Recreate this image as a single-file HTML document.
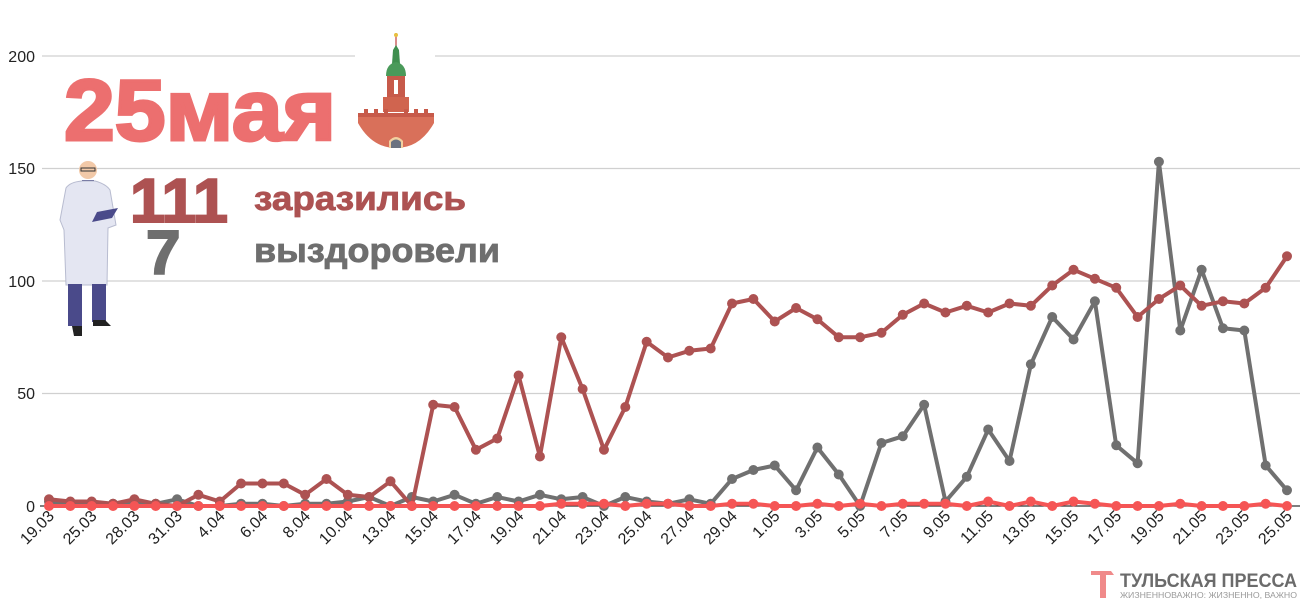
<!DOCTYPE html>
<html><head><meta charset="utf-8"><style>
html,body{margin:0;padding:0;background:#fff;width:1300px;height:600px;overflow:hidden}
svg{display:block;font-family:"Liberation Sans",sans-serif}
</style></head><body>
<svg id="s" width="1300" height="600" viewBox="0 0 1300 600" xmlns="http://www.w3.org/2000/svg">
<g stroke="#d0d0d0" stroke-width="1.3">
<line x1="42" x2="1300" y1="56" y2="56"/><line x1="42" x2="1300" y1="168.5" y2="168.5"/>
<line x1="42" x2="1300" y1="281" y2="281"/><line x1="42" x2="1300" y1="393.5" y2="393.5"/>
</g>
<line x1="40" x2="1300" y1="506" y2="506" stroke="#333" stroke-width="1.2"/>
<g font-size="16" fill="#222" text-anchor="end">
<text x="35" y="62">200</text><text x="35" y="174">150</text><text x="35" y="287">100</text><text x="35" y="399">50</text><text x="35" y="512">0</text>
</g>
<g id="lines"></g>
<g id="xl" font-size="16" fill="#222" text-anchor="end"></g>

<rect x="355" y="40" width="80" height="20" fill="#fff"/>
<text x="64" y="140" font-size="86" font-weight="bold" fill="#ec6f6f" stroke="#ec6f6f" stroke-width="3" textLength="272" lengthAdjust="spacingAndGlyphs">25мая</text>
<g>
<line x1="396" y1="33" x2="396" y2="50" stroke="#c66" stroke-width="1.5"/>
<circle cx="396" cy="35" r="2" fill="#e8c040"/>
<path d="M393 50 L396 45 L399 50 L400 64 L392 64 Z" fill="#3f8f4f"/>
<path d="M386 76 Q386 64 396 62 Q406 64 406 76 Z" fill="#4a9a5a"/>
<rect x="387" y="76" width="18" height="22" fill="#c75a4a"/>
<rect x="394" y="80" width="4" height="14" fill="#fff"/>
<rect x="383" y="97" width="26" height="15" fill="#d0644f"/>
<path d="M358 113 L434 113 L434 123 Q420 148 396 148 Q372 148 358 123 Z" fill="#d9705a"/>
<path d="M358 113 h6v-4h4v4h6v-4h4v4h6v-4h4v4h16v-4h4v4h6v-4h4v4h6v-4h4v4h6v4h-76z" fill="#c75a4a"/>
<path d="M389 148 L389 141 Q396 133 403 141 L403 148 Z" fill="#f2d0a0"/>
<path d="M391 148 L391 142 Q396 137 401 142 L401 148 Z" fill="#6b7280"/>
</g>
<g>
<circle cx="88" cy="170" r="9" fill="#f2c9a8"/>
<rect x="81" y="168" width="14" height="3" fill="none" stroke="#333" stroke-width="1"/>
<path d="M82 180 h12 v8 h-12z" fill="#3b3e7a"/>
<path d="M66 188 Q70 182 82 181 L95 181 Q106 184 110 190 L116 225 L108 228 L107 285 L66 285 L64 230 L60 220 Z" fill="#e4e6f2" stroke="#b8bcd0" stroke-width="1"/>
<path d="M97 212 L118 208 L112 218 L92 222 Z" fill="#4a4a8a"/>
<rect x="68" y="284" width="14" height="42" fill="#4a4a8a"/>
<rect x="92" y="284" width="14" height="38" fill="#4a4a8a"/>
<path d="M72 326 h10 v10 h-8 z" fill="#222"/><path d="M93 320 h12 l6 6 h-18z" fill="#222"/>
</g>
<text x="130" y="222" font-size="62" font-weight="bold" fill="#ad5252" stroke="#ad5252" stroke-width="2" textLength="98" lengthAdjust="spacingAndGlyphs">111</text>
<text x="146" y="274" font-size="62" font-weight="bold" fill="#6e6e6e" stroke="#6e6e6e" stroke-width="2">7</text>
<text x="254" y="210" font-size="34" font-weight="bold" fill="#ad5252" stroke="#ad5252" stroke-width="0.8" textLength="212" lengthAdjust="spacingAndGlyphs">заразились</text>
<text x="254" y="262" font-size="34" font-weight="bold" fill="#6e6e6e" stroke="#6e6e6e" stroke-width="0.8" textLength="246" lengthAdjust="spacingAndGlyphs">выздоровели</text>

<path d="M1091 571 h20 l3 4 h-8 v23 h-6 v-23 h-9z" fill="#f08a8a"/>
<text x="1120" y="587" font-size="19" font-weight="bold" fill="#6b6b6b" textLength="177" lengthAdjust="spacingAndGlyphs">ТУЛЬСКАЯ ПРЕССА</text>
<text x="1120" y="598" font-size="8" fill="#9a9a9a" textLength="177" lengthAdjust="spacingAndGlyphs">ЖИЗНЕННОВАЖНО: ЖИЗНЕННО, ВАЖНО</text>
</svg>
<script>
var red=[3,2,2,1,3,1,0,5,2,10,10,10,5,12,5,4,11,0,45,44,25,30,58,22,75,52,25,44,73,66,69,70,90,92,82,88,83,75,75,77,85,90,86,89,86,90,89,98,105,101,97,84,92,98,89,91,90,97,111];
var gray=[2,1,1,1,2,1,3,0,0,1,1,0,1,1,2,4,0,4,2,5,1,4,2,5,3,4,0,4,2,1,3,1,12,16,18,7,26,14,0,28,31,45,2,13,34,20,63,84,74,91,27,19,153,78,105,79,78,18,7];
var dead=[0,0,0,0,0,0,0,0,0,0,0,0,0,0,0,0,0,0,0,0,0,0,0,0,1,1,1,0,1,1,0,0,1,1,0,0,1,0,1,0,1,1,1,0,2,0,2,0,2,1,0,0,0,1,0,0,0,1,0];
var labels=["19.03","25.03","28.03","31.03","4.04","6.04","8.04","10.04","13.04","15.04","17.04","19.04","21.04","23.04","25.04","27.04","29.04","1.05","3.05","5.05","7.05","9.05","11.05","13.05","15.05","17.05","19.05","21.05","23.05","25.05"];
var NS="http://www.w3.org/2000/svg",g=document.getElementById("lines"),xl=document.getElementById("xl");
function X(i){return 49+i*(1287-49)/58}
function Y(v){return 506-v*2.25}
function draw(d,c){var p=d.map(function(v,i){return X(i).toFixed(1)+","+Y(v).toFixed(1)}).join(" ");
var pl=document.createElementNS(NS,"polyline");pl.setAttribute("points",p);pl.setAttribute("fill","none");pl.setAttribute("stroke",c);pl.setAttribute("stroke-width","4");pl.setAttribute("stroke-linejoin","round");g.appendChild(pl);
d.forEach(function(v,i){var ci=document.createElementNS(NS,"circle");ci.setAttribute("cx",X(i));ci.setAttribute("cy",Y(v));ci.setAttribute("r","5");ci.setAttribute("fill",c);g.appendChild(ci);});}
draw(gray,"#707070");draw(red,"#ad5252");draw(dead,"#f55555");
labels.forEach(function(l,k){var x=X(k*2)+6,y=517;var t=document.createElementNS(NS,"text");t.setAttribute("x",x);t.setAttribute("y",y);t.setAttribute("transform","rotate(-45 "+x+" "+y+")");t.textContent=l;xl.appendChild(t);});
</script>
</body></html>
